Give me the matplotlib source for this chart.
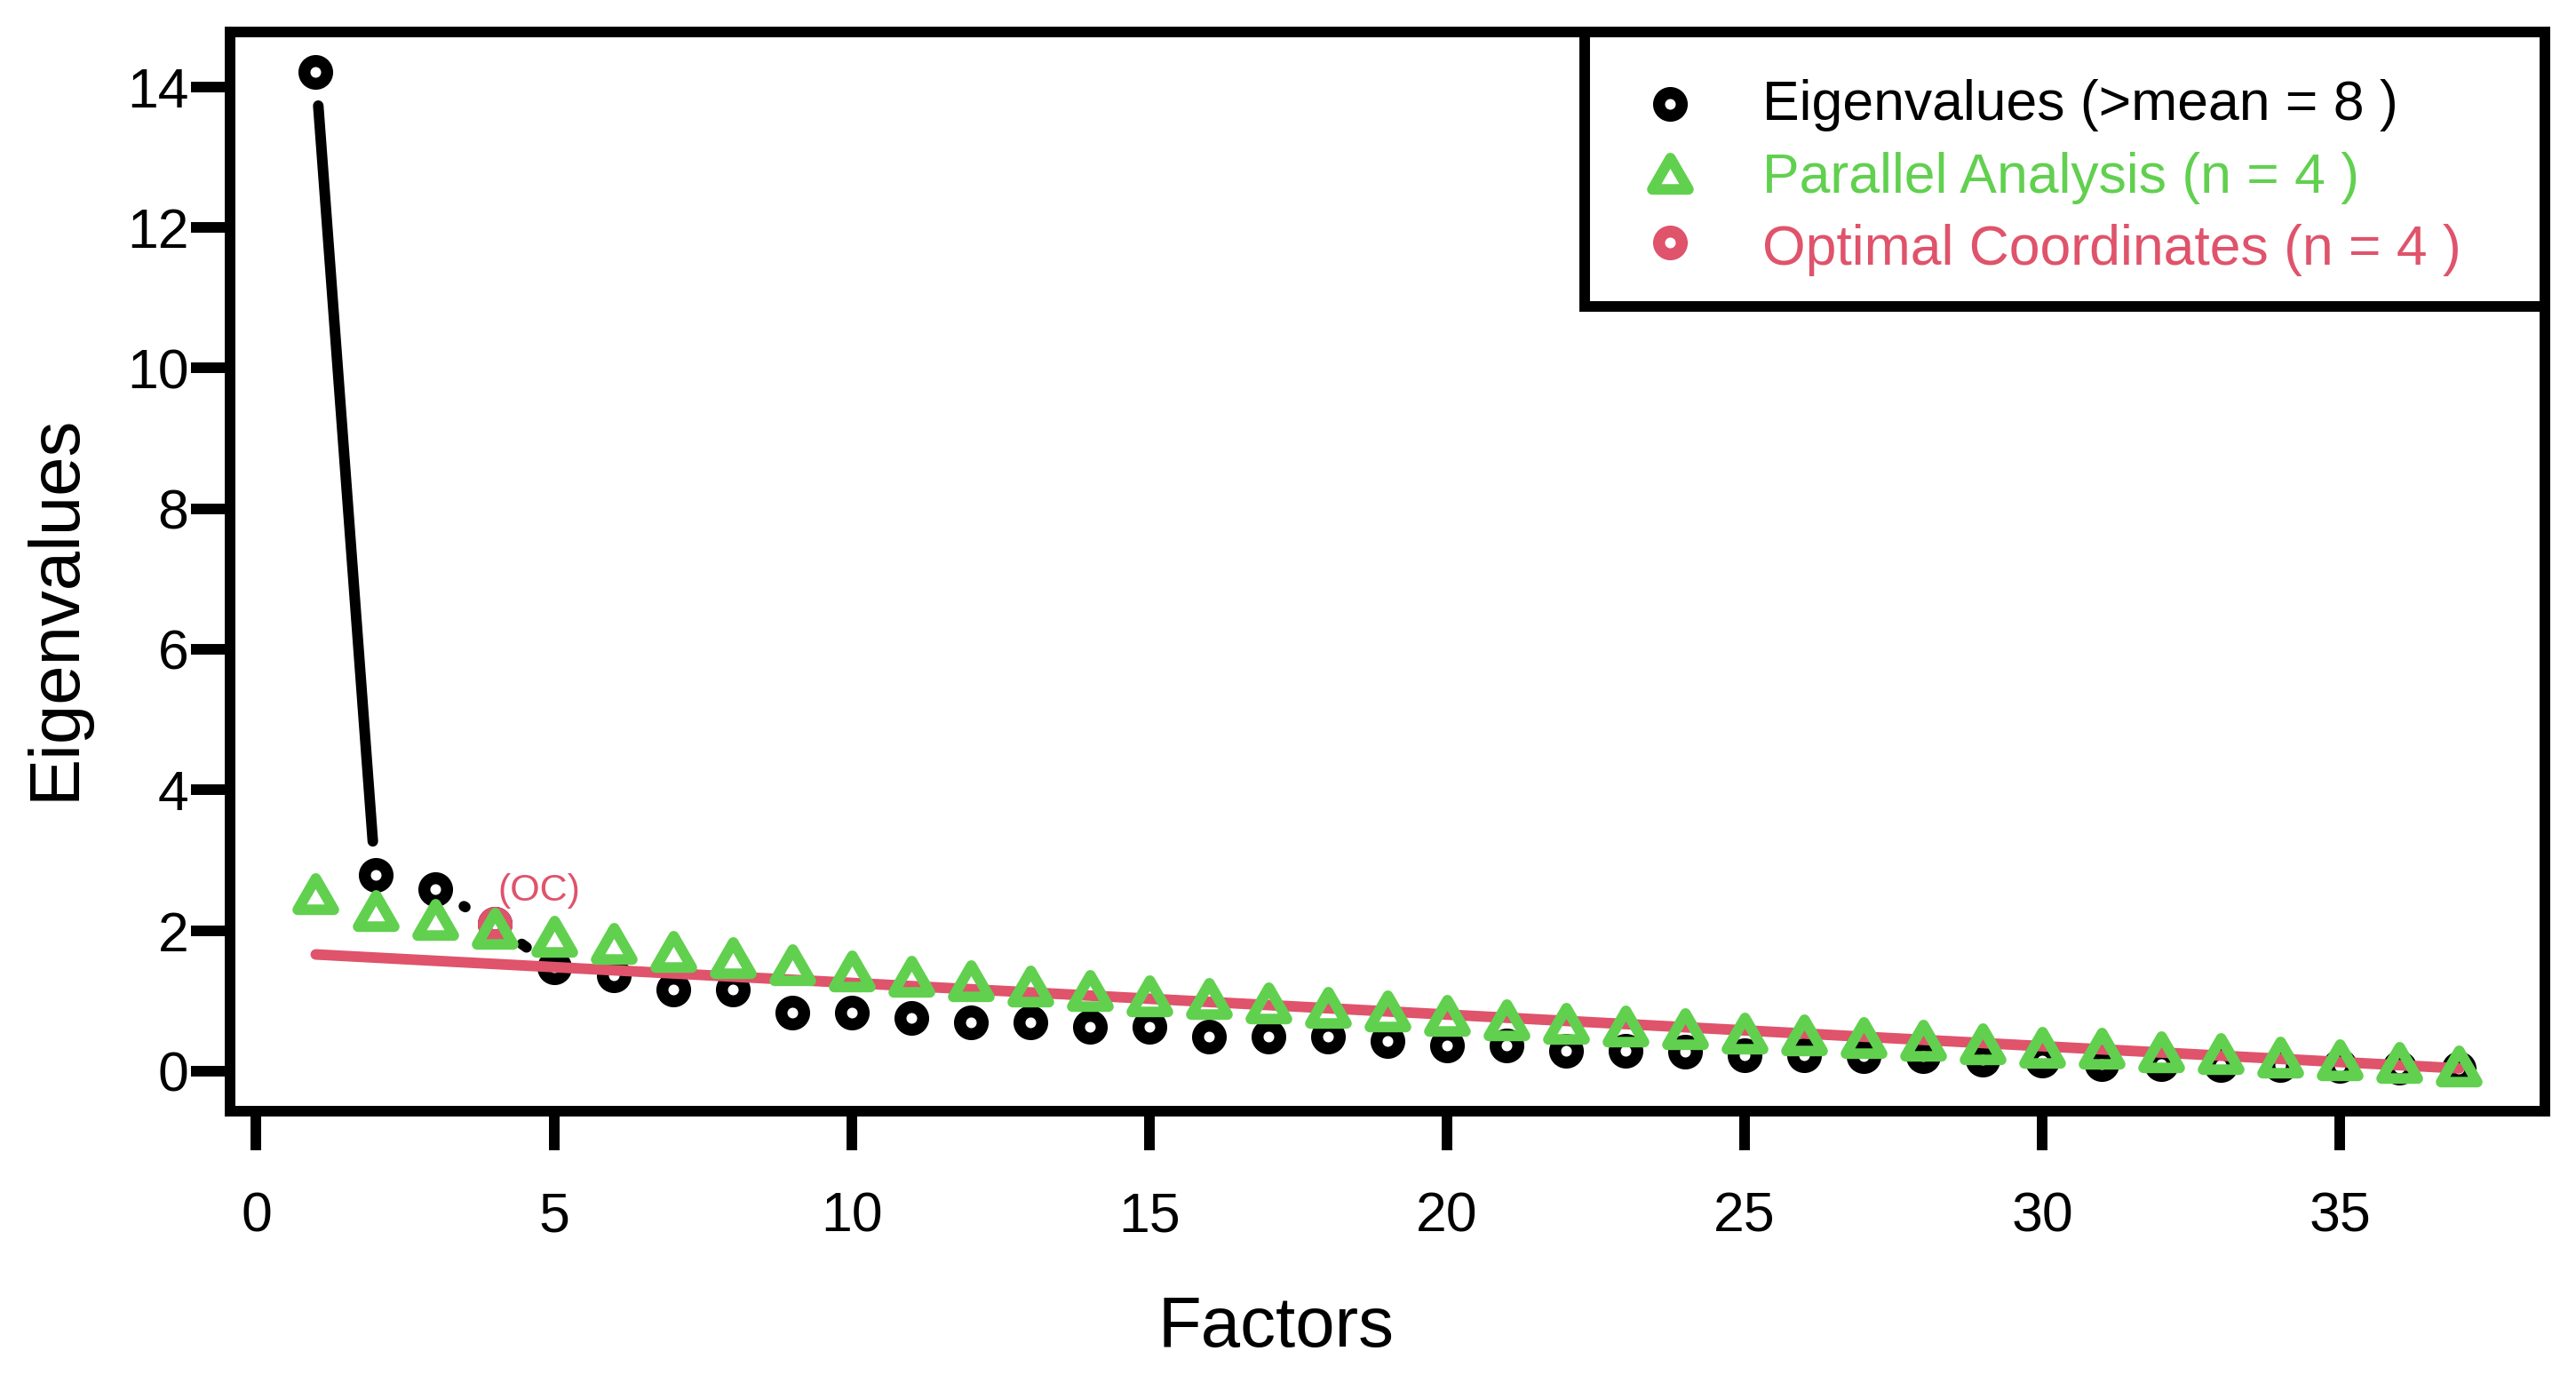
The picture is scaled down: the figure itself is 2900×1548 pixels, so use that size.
import matplotlib
matplotlib.use("Agg")
import matplotlib.pyplot as plt
from matplotlib.path import Path
from matplotlib.patches import Rectangle
import numpy as np

plt.rcParams['font.family'] = ['Liberation Sans', 'DejaVu Sans']

# ------------------- Data -------------------
factors = np.arange(1, 38)
eigenvalues = [14.21, 2.79, 2.59, 2.09, 1.48, 1.36, 1.16, 1.16, 0.83, 0.83,
               0.76, 0.70, 0.69, 0.63, 0.63, 0.49, 0.49, 0.49, 0.43, 0.36,
               0.36, 0.29, 0.29, 0.28, 0.23, 0.23, 0.22, 0.22, 0.16, 0.15,
               0.10, 0.10, 0.09, 0.09, 0.08, 0.05, 0.04]
parallel = [2.45, 2.21, 2.08, 1.96, 1.84, 1.74, 1.63, 1.54, 1.44, 1.35,
            1.28, 1.21, 1.13, 1.07, 1.00, 0.96, 0.89, 0.83, 0.78, 0.72,
            0.66, 0.61, 0.57, 0.53, 0.47, 0.44, 0.40, 0.37, 0.32, 0.27,
            0.25, 0.20, 0.17, 0.13, 0.09, 0.05, 0.00]
n_oc = 4
x_ticks = [0, 5, 10, 15, 20, 25, 30, 35]
y_ticks = [0, 2, 4, 6, 8, 10, 12, 14]
legend_labels = ["Eigenvalues (>mean = 8 )",
                 "Parallel Analysis (n = 4 )",
                 "Optimal Coordinates (n = 4 )"]

green = "#61D04F"
red = "#DF536B"
lw = 4.3

# point-up triangle centred on its centroid (like R pch=2)
tri = Path([(0, 1), (np.sqrt(3) / 2, -0.5), (-np.sqrt(3) / 2, -0.5), (0, 1)],
           [Path.MOVETO, Path.LINETO, Path.LINETO, Path.CLOSEPOLY])
circ_kw = dict(marker='o', markersize=9.2, markeredgewidth=4.86,
               markerfacecolor='none', linestyle='none')
tri_kw = dict(marker=tri, markersize=16.9, markeredgewidth=lw,
              markerfacecolor='none', linestyle='none', color=green)

fig = plt.figure(figsize=(14.5, 7.74), dpi=200)
ax = fig.add_axes([0.0893, 0.1919, 0.8986, 0.7848])

n = len(factors)
ax.set_xlim(1 - 0.04 * (n - 1), n + 0.04 * (n - 1))
ymax = max(eigenvalues)
ax.set_ylim(-0.04 * ymax, ymax * 1.04)


def gapped_line(ax, x, y, gap_px, **kw):
    # R type="b": segments stop short of each point
    pts = ax.transData.transform(np.column_stack([x, y]))
    inv = ax.transData.inverted()
    for p, q in zip(pts[:-1], pts[1:]):
        d = q - p
        dist = np.hypot(*d)
        if dist <= 2 * gap_px:
            continue
        u = d / dist
        a, b = inv.transform([p + u * gap_px, q - u * gap_px])
        ax.plot([a[0], b[0]], [a[1], b[1]], **kw)


# eigenvalues
ax.plot(factors, eigenvalues, color='black', zorder=3, **circ_kw)
gapped_line(ax, factors, eigenvalues, 38, color='black', lw=lw,
            solid_capstyle='round', zorder=3)

# optimal coordinates line through eig[noc+1] and eig[nk]
coef = np.polyfit([n_oc + 1, n], [eigenvalues[n_oc], eigenvalues[-1]], 1)
ax.plot([1, n], np.polyval(coef, [1, n]), color=red, lw=lw,
        solid_capstyle='round', zorder=4)
ax.plot([n_oc], [eigenvalues[n_oc - 1]], color=red, zorder=4, **circ_kw)
ax.annotate("(OC)", (n_oc, eigenvalues[n_oc - 1]), xytext=(1.4, 9.6),
            textcoords='offset points', ha='left', va='baseline',
            color=red, fontsize=15.5, zorder=6)

# parallel analysis
ax.plot(factors, parallel, zorder=5, **tri_kw)

# axes styling
for s in ax.spines.values():
    s.set_linewidth(lw)
    s.set_zorder(12)
ax.set_xticks(x_ticks)
ax.set_yticks(y_ticks)
ax.tick_params(axis='both', direction='out', length=15.7, width=lw,
               labelsize=22.5)
ax.tick_params(axis='x', pad=16.6)
ax.tick_params(axis='y', pad=1)

ax.set_xlabel("Factors", fontsize=28.7)
ax.xaxis.set_label_coords(0.4517, -0.1704)
ax.set_ylabel("Eigenvalues", fontsize=28.7)
ax.yaxis.set_label_coords(-0.0610, 0.4667)

# legend box
lx, ly = 0.5852, 0.7457
ax.add_patch(Rectangle((lx, ly), 1 - lx, 1 - ly, transform=ax.transAxes,
                       facecolor='white', edgecolor='black', lw=lw,
                       zorder=10, clip_on=False))
ax.plot([0.622], [0.9336], color='black', transform=ax.transAxes,
        clip_on=False, zorder=11, **circ_kw)
ax.plot([0.622], [0.8639], transform=ax.transAxes, clip_on=False,
        zorder=11, **tri_kw)
ax.plot([0.622], [0.8047], color=red, transform=ax.transAxes,
        clip_on=False, zorder=11, **circ_kw)
for label, col, yy in zip(legend_labels, ['black', green, red],
                          [0.9185, 0.8513, 0.7844]):
    ax.text(0.662, yy, label, color=col, fontsize=22.5, va='baseline',
            ha='left', transform=ax.transAxes, zorder=11)

fig.savefig("out.png", dpi=200)
